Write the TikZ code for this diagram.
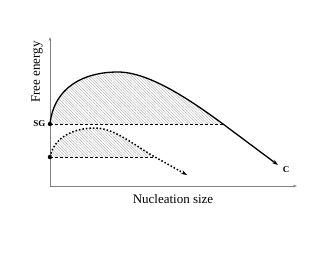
\documentclass[tikz,border=0pt]{standalone}
\usepackage{fontspec}
\setmainfont{Liberation Serif}
\usepackage{tikz}
\usetikzlibrary{arrows.meta,positioning,calc,patterns.meta}
\tikzset{
    axis/.style = {draw=gray, line width=0.5pt, -{Stealth[length=4pt,width=2.5pt]}},
    state/.style = {circle, fill=black, inner sep=0pt, minimum size=4.5pt},
    barrier/.style = {line width=1.3pt, -{Stealth[length=6pt,width=4pt]}},
    weakbarrier/.style = {line width=1.5pt, dotted, -{Stealth[length=6pt,width=4pt]}},
    level/.style = {densely dashed, line width=0.6pt},
    hatch/.style = {pattern={Lines[angle=-45,distance=2pt,line width=0.3pt]}, pattern color=gray!75},
    tag/.style = {font=\fontsize{9}{10}\selectfont\bfseries, inner sep=1pt},
    axislabel/.style = {font=\fontsize{13}{15}\selectfont, inner sep=0pt},
}

\begin{document}
\begin{tikzpicture}[x=1pt, y=1pt]
    \useasboundingbox (0,0) rectangle (330,255);
    % Axes
    \coordinate (O) at (50,69);
    \coordinate (ytop) at (50,218);
    \coordinate (xend) at (297,69);
    \draw[axis] (O) -- (ytop);
    \draw[axis] (O) -- (xend);
    \node[axislabel, rotate=90] (ylab) at (37,183) {Free energy};
    \node[axislabel] (xlab) at (173,56) {Nucleation size};

    % Upper path (spin glass)
    \node[state] (SG) at (50,131) {};
    \node[tag, left=1pt of SG] (SGlab) {SG};
    \coordinate (peakA) at (118,183);
    \coordinate (crossA) at (223,131);
    \coordinate (endA) at (278,90);
    \node[tag] (C) at (286,85) {C};
    \fill[hatch] (SG.center) .. controls (54,168) and (84,183) .. (peakA)
        .. controls (150,183) and (193,153) .. (crossA) -- cycle;
    \draw[level] (SG.center) -- (crossA);
    \draw[barrier] (SG.center) .. controls (54,168) and (84,183) .. (peakA)
        .. controls (150,183) and (193,153) .. (crossA) -- (endA);

    % Lower path
    \node[state] (low) at (50,98) {};
    \coordinate (peakB) at (95,127);
    \coordinate (crossB) at (155,98);
    \coordinate (endB) at (187,80);
    \fill[hatch] (low.center) .. controls (54,118) and (74,127) .. (peakB)
        .. controls (115,127) and (135,109) .. (crossB) -- cycle;
    \draw[level] (low.center) -- (crossB);
    \draw[weakbarrier] (low.center) .. controls (54,118) and (74,127) .. (peakB)
        .. controls (115,127) and (135,109) .. (crossB) -- (endB);
\end{tikzpicture}
\end{document}
